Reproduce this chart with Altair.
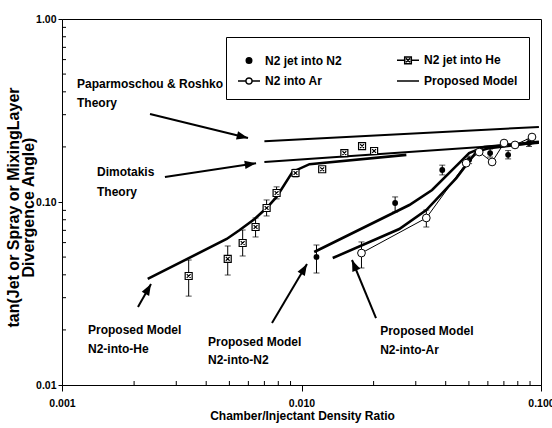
import math
import altair as alt
import pandas as pd

# plot area in pixels (log-log, two decades on each axis)
W, H = 479, 366
X_DOM = [0.001, 0.1]
Y_DOM = [0.01, 1.0]

FONT = "Liberation Sans, Arial, sans-serif"

SERIES = ["N2 jet into N2", "N2 jet into He", "N2 into Ar", "Proposed Model"]

# ---- measurements -------------------------------------------------------
# N2 jet into N2 (filled circles)
n2_x = [0.01155, 0.0246, 0.0387, 0.0501, 0.0613, 0.0729, 0.0891]
n2_y = [0.0501, 0.0987, 0.1496, 0.170, 0.185, 0.181, 0.210]
n2_lo = [0.0409, 0.0882, 0.1406, 0.162, 0.176, 0.172, 0.201]
n2_hi = [0.0582, 0.1066, 0.159, 0.178, 0.195, 0.191, 0.220]

# N2 jet into He (boxed crosses)
he_x = [0.00338, 0.00492, 0.00568, 0.00643, 0.00715, 0.00787, 0.00944, 0.0122, 0.0151, 0.0179, 0.0201]
he_y = [0.0394, 0.0489, 0.0597, 0.0730, 0.0927, 0.112, 0.144, 0.151, 0.185, 0.202, 0.190]
he_lo = [0.0306, 0.0399, 0.0507, 0.0644, 0.0839, 0.104, 0.137, None, None, None, None]
he_hi = [0.0482, 0.0575, 0.0703, 0.0818, 0.1026, 0.121, 0.151, None, None, None, None]

# N2 into Ar (open circles joined by a thin line)
ar_x = [0.0178, 0.0332, 0.0487, 0.0552, 0.0625, 0.0701, 0.0779, 0.0917]
ar_y = [0.0526, 0.0818, 0.163, 0.1875, 0.1655, 0.210, 0.205, 0.2265]
ar_lo = [0.0436, 0.0730, None, None, None, None, None, None]
ar_hi = [0.0605, 0.0904, None, None, None, None, None, None]

# ---- model and theory curves ---------------------------------------------
model_he_x = [0.00228, 0.00487, 0.00552, 0.00637, 0.00715, 0.00787, 0.00917, 0.0108, 0.0274]
model_he_y = [0.0380, 0.0628, 0.0703, 0.0807, 0.0927, 0.1066, 0.146, 0.161, 0.181]
model_n2_x = [0.0113, 0.0282, 0.0351, 0.0455, 0.0501, 0.0579, 0.098]
model_n2_y = [0.0533, 0.0963, 0.1163, 0.163, 0.185, 0.200, 0.213]
model_ar_x = [0.0135, 0.0256, 0.0332, 0.0443, 0.0536, 0.0607, 0.098]
model_ar_y = [0.0494, 0.0712, 0.0904, 0.135, 0.1875, 0.197, 0.212]

pr_x = [0.0070, 0.098]
pr_y = [0.215, 0.257]
dim_x = [0.0070, 0.098]
dim_y = [0.1655, 0.210]

# ---- annotations -----------------------------------------------------------
note_text = ["Paparmoschou & Roshko", "Theory", "Dimotakis", "Theory",
             "Proposed Model", "N2-into-He", "Proposed Model", "N2-into-N2",
             "Proposed Model", "N2-into-Ar"]
note_x = [0.001155, 0.001155, 0.00140, 0.00140, 0.001284, 0.001284,
          0.00407, 0.00407, 0.0213, 0.0213]
note_y = [0.4414, 0.3475, 0.146, 0.1134, 0.0200, 0.01573,
          0.01718, 0.01370, 0.0197, 0.0155]

arrow_tail_x = [0.00233, 0.00269, 0.002076, 0.00753, 0.02047]
arrow_tail_y = [0.3027, 0.137, 0.02668, 0.0218, 0.02323]
arrow_tip_x = [0.00598, 0.00646, 0.002353, 0.01054, 0.01625]
arrow_tip_y = [0.2238, 0.163, 0.03564, 0.0458, 0.0482]

# log-axis minor ticks
x_minor = [k * 10.0 ** e for e in (-3, -2) for k in range(2, 10)]
y_minor = [k * 10.0 ** e for e in (-2, -1) for k in range(2, 10)]

# ---- encodings -------------------------------------------------------------
x_axis = alt.Axis(values=[0.001, 0.01, 0.1], format=".3f", grid=False,
                  tickSize=6, tickColor="black", domainColor="black",
                  labelColor="black", labelFont=FONT, labelFontSize=10.5,
                  labelFontWeight="bold", labelPadding=7, labelFlush=False,
                  labelOverlap=False, title="Chamber/Injectant Density Ratio",
                  titleFont=FONT, titleFontSize=12, titleFontWeight="bold",
                  titleColor="black", titleX=240, titleY=30,
                  titleAlign="center", titleBaseline="middle")
y_axis = alt.Axis(values=[0.01, 0.1, 1.0], format=".2f", grid=False,
                  tickSize=4, tickColor="black", domainColor="black",
                  labelColor="black", labelFont=FONT, labelFontSize=10.5,
                  labelFontWeight="bold", labelPadding=2, labelFlush=False,
                  labelOverlap=False,
                  title=["tan(Jet or Spray or MixingLayer", "Divergence Angle)"],
                  titleFont=FONT, titleFontSize=16, titleFontWeight="bold",
                  titleColor="black", titleAngle=270, titleX=-49, titleY=188,
                  titleAlign="center", titleBaseline="middle", titleLineHeight=15)


def X(field="x"):
    return alt.X(f"{field}:Q", scale=alt.Scale(type="log", domain=X_DOM), axis=x_axis)


def Y(field="y"):
    return alt.Y(f"{field}:Q", scale=alt.Scale(type="log", domain=Y_DOM), axis=y_axis)


# ---- tables ------------------------------------------------------------------
def curve(name, xs, ys):
    return pd.DataFrame({"curve": name, "order": range(len(xs)), "x": xs, "y": ys})


theory_df = pd.concat([curve("pr", pr_x, pr_y), curve("dim", dim_x, dim_y)])
model_df = pd.concat([curve("he", model_he_x, model_he_y),
                      curve("n2", model_n2_x, model_n2_y),
                      curve("ar", model_ar_x, model_ar_y)])
ar_df = curve("ar_data", ar_x, ar_y)
n2_df = pd.DataFrame({"x": n2_x, "y": n2_y})
he_df = pd.DataFrame({"x": he_x, "y": he_y})

err_df = pd.concat([
    pd.DataFrame({"x": n2_x, "lo": n2_lo, "hi": n2_hi}),
    pd.DataFrame({"x": he_x, "lo": he_lo, "hi": he_hi}),
    pd.DataFrame({"x": ar_x, "lo": ar_lo, "hi": ar_hi}),
]).dropna()
cap_df = pd.concat([err_df[["x", "lo"]].rename(columns={"lo": "y"}),
                    err_df[["x", "hi"]].rename(columns={"hi": "y"})])

note_df = pd.DataFrame({"x": note_x, "y": note_y, "text": note_text})


def head_angle(x0, y0, x1, y1):
    dx = W * (math.log10(x1) - math.log10(x0)) / 2
    dy = -H * (math.log10(y1) - math.log10(y0)) / 2
    return math.degrees(math.atan2(dx, -dy)) % 360


shaft_rows = []
head_rows = []
for i, (x0, y0, x1, y1) in enumerate(zip(arrow_tail_x, arrow_tail_y, arrow_tip_x, arrow_tip_y)):
    shaft_rows.append({"arrow": i, "order": 0, "x": x0, "y": y0})
    shaft_rows.append({"arrow": i, "order": 1, "x": x1, "y": y1})
    head_rows.append({"x": x1, "y": y1, "angle": head_angle(x0, y0, x1, y1)})
shaft_df = pd.DataFrame(shaft_rows)
head_df = pd.DataFrame(head_rows)

legend_df = pd.DataFrame({"series": SERIES, "x": [0.01] * 4, "y": [0.1] * 4})
LEGEND_PATHS = [
    "M-0.25,0A0.25,0.25 0 1,0 0.25,0A0.25,0.25 0 1,0 -0.25,0Z",
    "M-1,0H-0.3M0.3,0H1M-0.3,-0.3H0.3V0.3H-0.3ZM-0.18,-0.18L0.18,0.18M0.18,-0.18L-0.18,0.18",
    "M-1,0H-0.28M0.28,0H1M-0.28,0A0.28,0.28 0 1,0 0.28,0A0.28,0.28 0 1,0 -0.28,0Z",
    "M-1,0H1",
]
LEGEND_FILLS = ["black", "white", "white", "white"]
LEGEND_STROKES = ["black", "black", "black", "black"]

BOX_X = "M-1,-1H1V1H-1ZM-0.55,-0.55L0.55,0.55M0.55,-0.55L-0.55,0.55"
ARROW_HEAD = "M0,0L0.6,1.6L-0.6,1.6Z"

# ---- layers ------------------------------------------------------------------
theory = alt.Chart(theory_df).mark_line(color="black", strokeWidth=2).encode(
    x=X(), y=Y(), detail="curve:N", order="order:Q")
model = alt.Chart(model_df).mark_line(color="black", strokeWidth=2.6).encode(
    x=X(), y=Y(), detail="curve:N", order="order:Q")
ar_line = alt.Chart(ar_df).mark_line(color="black", strokeWidth=1).encode(
    x=X(), y=Y(), order="order:Q")

err_bars = alt.Chart(err_df).mark_rule(color="black", strokeWidth=1).encode(
    x=X(), y=Y("lo"), y2=alt.Y2("hi"))
err_caps = alt.Chart(cap_df).mark_tick(color="black", orient="horizontal",
                                       size=6, thickness=1).encode(x=X(), y=Y())

n2_pts = alt.Chart(n2_df).mark_point(shape="circle", filled=True, color="black",
                                     size=34, opacity=1).encode(x=X(), y=Y())
he_pts = alt.Chart(he_df).mark_point(shape=BOX_X, fill="white", stroke="black",
                                     strokeWidth=1.2, size=49, opacity=1).encode(x=X(), y=Y())
ar_pts = alt.Chart(ar_df).mark_point(shape="circle", fill="white", stroke="black",
                                     strokeWidth=1, size=60, opacity=1).encode(x=X(), y=Y())

shafts = alt.Chart(shaft_df).mark_line(color="black", strokeWidth=2).encode(
    x=X(), y=Y(), detail="arrow:N", order="order:Q")
heads = alt.Chart(head_df).mark_point(shape=ARROW_HEAD, filled=True, color="black",
                                      size=200, opacity=1).encode(
    x=X(), y=Y(), angle=alt.Angle("angle:Q", scale=None))

notes = alt.Chart(note_df).mark_text(align="left", baseline="middle", font=FONT,
                                     fontSize=12, fontWeight="bold", color="black").encode(
    x=X(), y=Y(), text="text:N")

x_ticks = alt.Chart(pd.DataFrame({"x": x_minor})).mark_rule(color="black").encode(
    x=X(), y=alt.value(H), y2=alt.value(H - 4))
y_ticks = alt.Chart(pd.DataFrame({"y": y_minor})).mark_rule(color="black").encode(
    y=Y(), x=alt.value(0), x2=alt.value(4))

leg = alt.Legend(title=None, orient="none", legendX=164, legendY=18, columns=2,
                 direction="horizontal",
                 symbolSize=484, symbolStrokeColor="black", symbolStrokeWidth=1.5,
                 symbolOpacity=1, labelFont=FONT, labelFontSize=12,
                 labelFontWeight="bold", labelColor="black", labelOffset=4,
                 padding=11, rowPadding=2, columnPadding=52,
                 strokeColor="black", fillColor="white")
legend_layer = alt.Chart(legend_df).mark_point(opacity=0, strokeWidth=1.5).encode(
    x=X(), y=Y(),
    shape=alt.Shape("series:N", scale=alt.Scale(domain=SERIES, range=LEGEND_PATHS), legend=leg),
    fill=alt.Fill("series:N", scale=alt.Scale(domain=SERIES, range=LEGEND_FILLS), legend=leg),
    stroke=alt.Stroke("series:N", scale=alt.Scale(domain=SERIES, range=LEGEND_STROKES), legend=leg),
)

chart = alt.layer(
    x_ticks, y_ticks, theory, model, ar_line, err_bars, err_caps,
    n2_pts, he_pts, ar_pts, shafts, heads, notes, legend_layer,
).properties(
    width=W, height=H,
    autosize=alt.AutoSizeParams(type="none"),
    padding={"left": 62, "top": 19, "right": 11, "bottom": 43},
    background="white",
).configure_view(stroke="black", strokeWidth=1)

chart.save("out.html", embed_options={"renderer": "svg", "actions": False})
